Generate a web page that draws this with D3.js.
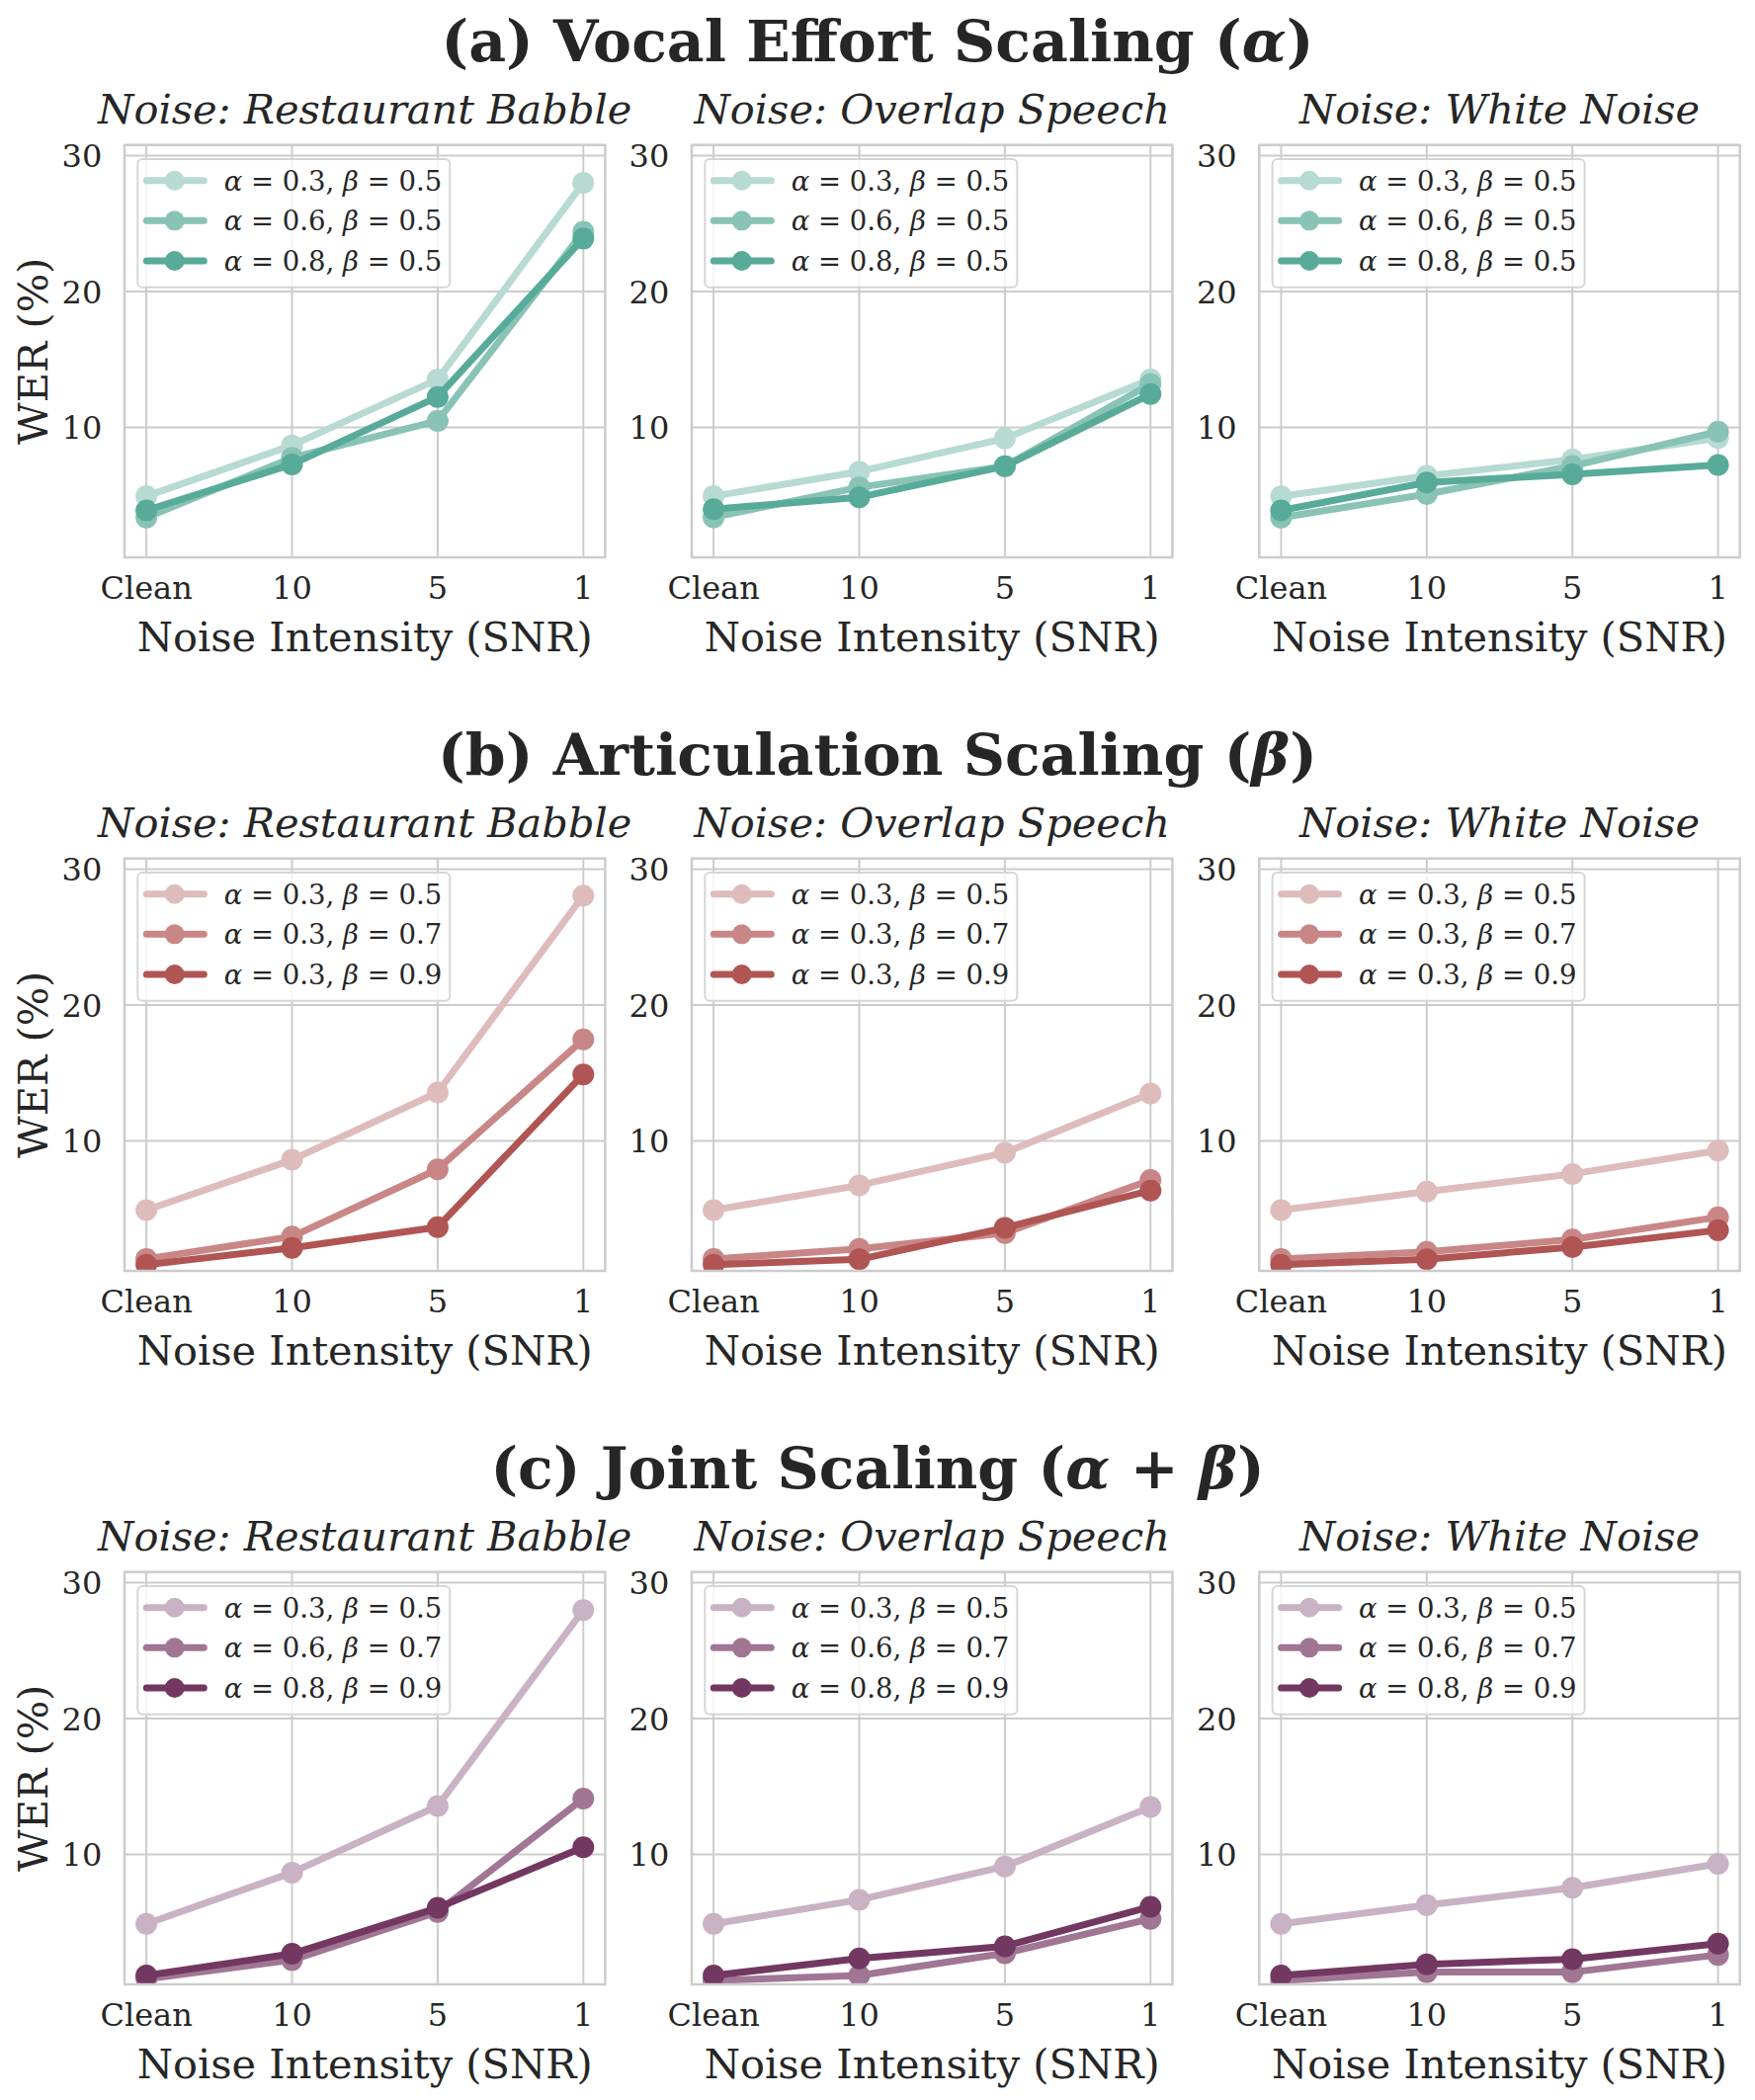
<!DOCTYPE html>
<html>
<head>
<meta charset="utf-8">
<title>WER vs noise intensity</title>
<script src="https://cdn.jsdelivr.net/npm/d3@7"></script>
<style>
  body { margin: 0; background: #fff; }
  svg text { font-family: "DejaVu Serif", serif; fill: #262626; }
</style>
</head>
<body>
<svg id="chart" width="1776" height="2125"></svg>
<script>
// ---- data (WER %) ----
const snrLabels = ["Clean", "10", "5", "1"];
const noiseTypes = ["Restaurant Babble", "Overlap Speech", "White Noise"];
const yTicks = [10, 20, 30];

const vocalParams = [[0.3, 0.5], [0.6, 0.5], [0.8, 0.5]];
const articParams = [[0.3, 0.5], [0.3, 0.7], [0.3, 0.9]];
const jointParams = [[0.3, 0.5], [0.6, 0.7], [0.8, 0.9]];

const vocalColors = ["#b7dad2", "#88c3b6", "#58ab99"];
const articColors = ["#dfbcbc", "#c98686", "#b05553"];
const jointColors = ["#c9b2c4", "#a07694", "#723861"];

const vocalBabble  = [[4.95, 8.69, 13.54, 28.0], [3.37, 7.78, 10.49, 24.4], [3.9, 7.29, 12.25, 23.9]];
const vocalOverlap = [[4.95, 6.76, 9.2, 13.55], [3.4, 5.6, 7.15, 13.2], [4.0, 4.87, 7.15, 12.46]];
const vocalWhite   = [[4.94, 6.44, 7.65, 9.23], [3.37, 5.1, 7.17, 9.7], [3.9, 5.96, 6.56, 7.24]];

const articBabble  = [[4.92, 8.62, 13.57, 28.05], [1.33, 2.97, 7.92, 17.47], [0.9, 2.14, 3.67, 14.9]];
const articOverlap = [[4.92, 6.74, 9.14, 13.5], [1.33, 2.06, 3.23, 7.14], [0.9, 1.3, 3.62, 6.36]];
const articWhite   = [[4.92, 6.28, 7.58, 9.3], [1.33, 1.85, 2.76, 4.4], [0.9, 1.3, 2.2, 3.44]];

const jointBabble  = [[4.9, 8.67, 13.57, 27.98], [0.85, 2.24, 5.78, 14.12], [1.1, 2.7, 6.08, 10.53]];
const jointOverlap = [[4.9, 6.67, 9.12, 13.49], [0.72, 1.1, 2.74, 5.27], [1.1, 2.36, 3.25, 6.16]];
const jointWhite   = [[4.9, 6.28, 7.55, 9.32], [0.72, 1.35, 1.35, 2.62], [1.1, 1.93, 2.31, 3.45]];

const sections = [
  { title: ["(a) Vocal Effort Scaling (", "α", ")"], params: vocalParams, colors: vocalColors,
    panels: [vocalBabble, vocalOverlap, vocalWhite] },
  { title: ["(b) Articulation Scaling (", "β", ")"], params: articParams, colors: articColors,
    panels: [articBabble, articOverlap, articWhite] },
  { title: ["(c) Joint Scaling (", "α", " + ", "β", ")"], params: jointParams, colors: jointColors,
    panels: [jointBabble, jointOverlap, jointWhite] }
];

// ---- layout ----
const svg = d3.select("#chart");
const panelLeft = [126, 700, 1274.3];
const panelW = 486.4, panelH = 417.3;
const rowTop = [146.7, 868.7, 1590.7];
const grid = "#cccccc";

// matplotlib-style 5% margins on the categorical axis
const xr = d3.scaleLinear().domain([-0.15, 3.15]).range([0, panelW]);
const y = d3.scaleLinear().domain([0.45, 30.78]).range([panelH, 0]);

sections.forEach((sec, r) => {
  const top = rowTop[r];

  // section title
  const t = svg.append("text")
    .attr("x", 888).attr("y", top - 85)
    .attr("text-anchor", "middle")
    .attr("font-size", 58.5).attr("font-weight", "bold");
  sec.title.forEach(s => {
    t.append("tspan").text(s)
      .attr("font-style", (s === "α" || s === "β") ? "italic" : null);
  });

  sec.panels.forEach((series, c) => {
    const g = svg.append("g").attr("transform", `translate(${panelLeft[c]},${top})`);
    const clipId = `clip-${r}-${c}`;
    g.append("clipPath").attr("id", clipId)
      .append("rect").attr("width", panelW).attr("height", panelH);

    // grid
    g.append("g").selectAll("line").data(yTicks).join("line")
      .attr("x1", 0).attr("x2", panelW)
      .attr("y1", d => y(d)).attr("y2", d => y(d))
      .attr("stroke", grid).attr("stroke-width", 2);
    g.append("g").selectAll("line").data(snrLabels).join("line")
      .attr("x1", (d, i) => xr(i)).attr("x2", (d, i) => xr(i))
      .attr("y1", 0).attr("y2", panelH)
      .attr("stroke", grid).attr("stroke-width", 2);

    // y tick labels
    g.append("g").selectAll("text").data(yTicks).join("text")
      .attr("x", -22.7).attr("y", d => y(d))
      .attr("dy", "0.36em")
      .attr("text-anchor", "end").attr("font-size", 32)
      .text(d => d);

    // x tick labels
    g.append("g").selectAll("text").data(snrLabels).join("text")
      .attr("x", (d, i) => xr(i)).attr("y", panelH + 42)
      .attr("text-anchor", "middle").attr("font-size", 32)
      .text(d => d);

    // x axis label
    g.append("text")
      .attr("x", panelW / 2).attr("y", panelH + 95)
      .attr("text-anchor", "middle").attr("font-size", 41.5)
      .text("Noise Intensity (SNR)");

    // panel title
    g.append("text")
      .attr("x", panelW / 2).attr("y", -21.7)
      .attr("text-anchor", "middle").attr("font-size", 41.5)
      .attr("font-style", "italic")
      .text("Noise: " + noiseTypes[c]);

    if (c === 0) {
      g.append("text")
        .attr("transform", `translate(${-126 + 33},${panelH / 2}) rotate(-90)`)
        .attr("text-anchor", "middle").attr("dy", "0.36em")
        .attr("font-size", 41.5)
        .text("WER (%)");
    }

    // series
    const plot = g.append("g").attr("clip-path", `url(#${clipId})`);
    const line = d3.line().x((d, i) => xr(i)).y(d => y(d));
    series.forEach((vals, k) => {
      const col = sec.colors[k];
      plot.append("path").datum(vals)
        .attr("d", line)
        .attr("fill", "none").attr("stroke", col)
        .attr("stroke-width", 7).attr("stroke-linejoin", "round")
        .attr("stroke-linecap", "round");
      plot.append("g").selectAll("circle").data(vals).join("circle")
        .attr("cx", (d, i) => xr(i)).attr("cy", d => y(d))
        .attr("r", 11).attr("fill", col);
    });

    // frame
    g.append("rect").attr("width", panelW).attr("height", panelH)
      .attr("fill", "none").attr("stroke", grid).attr("stroke-width", 2.5);

    // legend
    const lg = g.append("g").attr("transform", "translate(13.3,14.3)");
    lg.append("rect").attr("width", 316).attr("height", 129.7)
      .attr("rx", 5).attr("fill", "#ffffff").attr("fill-opacity", 0.8)
      .attr("stroke", "#d6d6d6").attr("stroke-width", 2);
    sec.params.forEach((p, k) => {
      const ry = 21.7 + k * 40.65;
      const col = sec.colors[k];
      lg.append("line").attr("x1", 9).attr("x2", 67).attr("y1", ry).attr("y2", ry)
        .attr("stroke", col).attr("stroke-width", 7).attr("stroke-linecap", "round");
      lg.append("circle").attr("cx", 37.4).attr("cy", ry).attr("r", 10).attr("fill", col);
      const lt = lg.append("text").attr("x", 87.4).attr("y", ry).attr("dy", "0.36em")
        .attr("font-size", 27.5);
      lt.append("tspan").attr("font-style", "italic").text("α");
      lt.append("tspan").text(` = ${p[0]}, `);
      lt.append("tspan").attr("font-style", "italic").text("β");
      lt.append("tspan").text(` = ${p[1]}`);
    });
  });
});
</script>
</body>
</html>
